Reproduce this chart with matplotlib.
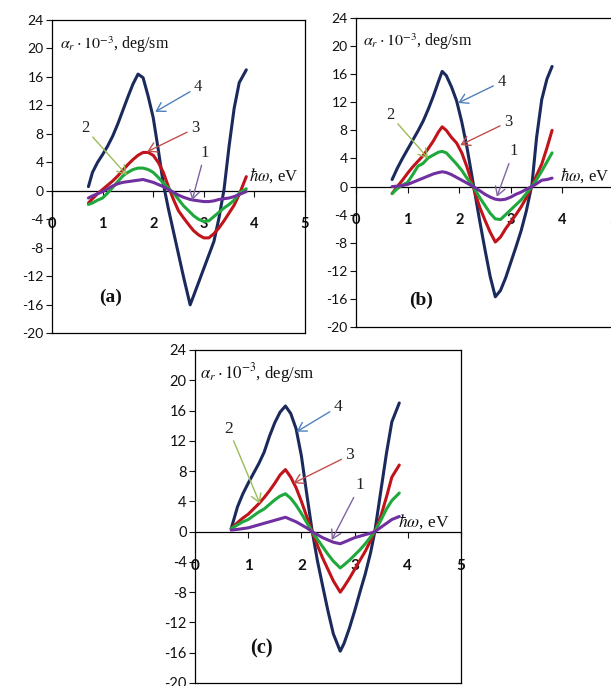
import matplotlib
matplotlib.use('Agg')
import matplotlib.pyplot as plt

plt.rcParams['mathtext.fontset'] = 'stix'
plt.rcParams['font.family'] = ['Lato', 'DejaVu Sans']
plt.rcParams['axes.unicode_minus'] = False

# photon energy (eV) and rotation angle (10^-3 deg/sm)
x_a = [0.72, 0.8, 0.9, 1.0, 1.1, 1.2, 1.3, 1.4, 1.5, 1.6, 1.7, 1.8, 1.9, 2.0, 2.1, 2.2,
       2.3, 2.4, 2.5, 2.6, 2.73, 2.8, 2.9, 3.0, 3.1, 3.2, 3.3, 3.4, 3.5, 3.6, 3.7, 3.84]
a_curve1 = [-1.0, -0.7, -0.4, -0.1, 0.3, 0.7, 1.0, 1.2, 1.3, 1.4, 1.5, 1.6, 1.4, 1.2, 0.9, 0.6,
            0.2, -0.2, -0.6, -0.9, -1.2, -1.3, -1.4, -1.5, -1.5, -1.4, -1.2, -1.1, -1.0, -0.8, -0.5, -0.1]
a_curve2 = [-1.9, -1.7, -1.3, -1.0, -0.3, 0.5, 1.3, 2.1, 2.6, 3.0, 3.2, 3.2, 3.0, 2.6, 1.9, 1.1,
            0.4, -0.3, -1.2, -2.1, -3.0, -3.5, -4.0, -4.3, -4.2, -3.6, -3.0, -2.4, -1.9, -1.3, -0.3, 0.3]
a_curve3 = [-1.7, -1.1, -0.4, 0.2, 0.8, 1.4, 2.1, 2.9, 3.7, 4.4, 5.0, 5.4, 5.4, 5.0, 4.0, 2.6,
            0.6, -1.2, -2.8, -3.8, -5.0, -5.6, -6.2, -6.6, -6.6, -6.0, -5.2, -4.2, -3.1, -2.0, -0.5, 2.0]
a_curve4 = [0.6, 2.6, 4.0, 5.1, 6.3, 7.7, 9.4, 11.3, 13.2, 15.0, 16.4, 15.9, 13.3, 10.3, 5.8, 1.0,
            -2.5, -5.7, -8.9, -12.1, -16.0, -14.7, -12.8, -10.9, -9.0, -7.1, -3.8, 0.2, 6.3, 11.6, 15.2, 17.0]

x_b = [0.7, 0.8, 0.9, 1.0, 1.1, 1.2, 1.3, 1.4, 1.5, 1.6, 1.67, 1.75, 1.85, 1.95, 2.05, 2.15,
       2.27, 2.4, 2.5, 2.6, 2.7, 2.8, 2.9, 3.0, 3.1, 3.2, 3.3, 3.41, 3.5, 3.6, 3.7, 3.8]
b_curve1 = [0.0, 0.05, 0.15, 0.3, 0.6, 0.9, 1.2, 1.5, 1.8, 2.0, 2.1, 2.0, 1.7, 1.3, 0.9, 0.5,
            0.0, -0.6, -1.1, -1.5, -1.8, -1.9, -1.8, -1.5, -1.1, -0.8, -0.4, 0.0, 0.4, 0.9, 1.0, 1.2]
b_curve2 = [-1.0, -0.3, 0.2, 0.6, 1.7, 2.9, 3.3, 4.1, 4.5, 4.9, 5.0, 4.8, 4.0, 3.2, 2.3, 1.2,
            0.0, -1.6, -2.7, -3.8, -4.6, -4.7, -4.0, -3.3, -2.6, -1.9, -1.0, 0.0, 1.0, 2.2, 3.5, 4.8]
b_curve3 = [-1.0, 0.0, 0.9, 1.9, 2.8, 3.6, 4.4, 5.4, 6.5, 7.8, 8.5, 8.0, 7.0, 6.2, 4.8, 2.8,
            0.0, -3.0, -4.8, -6.5, -7.9, -7.2, -6.0, -5.0, -4.0, -2.9, -1.6, 0.0, 1.6, 3.2, 5.5, 8.0]
b_curve4 = [1.0, 2.6, 4.0, 5.3, 6.6, 7.9, 9.3, 11.0, 12.9, 15.0, 16.4, 15.8, 14.2, 12.2, 9.2, 5.6,
            0.5, -5.0, -9.0, -12.8, -15.7, -14.8, -13.0, -10.8, -8.6, -6.3, -3.5, 0.3, 7.0, 12.4, 15.3, 17.1]

x_c = [0.68, 0.8, 0.9, 1.0, 1.1, 1.2, 1.3, 1.4, 1.5, 1.6, 1.7, 1.8, 1.9, 2.0, 2.1, 2.2,
       2.3, 2.4, 2.5, 2.6, 2.73, 2.8, 2.9, 3.0, 3.1, 3.2, 3.3, 3.38, 3.5, 3.6, 3.7, 3.84]
c_curve1 = [0.2, 0.3, 0.4, 0.5, 0.7, 0.9, 1.1, 1.3, 1.5, 1.7, 1.9, 1.6, 1.3, 0.9, 0.5, 0.0,
            -0.4, -0.8, -1.1, -1.4, -1.6, -1.4, -1.1, -0.8, -0.6, -0.4, -0.2, 0.0, 0.6, 1.1, 1.6, 2.0]
c_curve2 = [0.4, 0.9, 1.3, 1.6, 2.1, 2.6, 3.0, 3.6, 4.2, 4.7, 5.0, 4.4, 3.5, 2.4, 1.2, 0.0,
            -1.0, -2.0, -3.0, -3.9, -4.8, -4.4, -3.8, -3.1, -2.4, -1.6, -0.7, 0.0, 1.6, 3.0, 4.1, 5.1]
c_curve3 = [0.4, 1.2, 1.8, 2.3, 3.0, 3.7, 4.5, 5.4, 6.4, 7.5, 8.2, 7.2, 5.8, 4.0, 2.0, 0.0,
            -1.8, -3.5, -5.0, -6.5, -8.0, -7.3, -6.2, -5.0, -3.8, -2.6, -1.2, 0.0, 2.2, 4.6, 7.2, 8.8]
c_curve4 = [0.4, 3.3, 5.0, 6.4, 7.7, 9.0, 10.5, 12.6, 14.4, 15.8, 16.6, 15.6, 13.6, 10.0, 5.0, 0.2,
            -3.8, -7.2, -10.5, -13.5, -15.8, -14.8, -12.8, -10.5, -8.0, -5.6, -2.8, 0.0, 5.7, 10.4, 14.5, 17.0]

y_ticks = list(range(-20, 25, 4))
x_ticks = [0, 1, 2, 3, 4, 5]

line_colors = {1: '#7030a0', 2: '#1fa83c', 3: '#c0141a', 4: '#1b2a5c'}
arrow_colors = {1: '#8064a2', 2: '#9bbb59', 3: '#c0504d', 4: '#4f81bd'}


def draw_panel(ax, x, curves, letter, letter_pos, ylab_pos, hw_pos, arrows, k=1.0):
    # draw navy first so the small curves stay visible on top
    for n in (4, 3, 2, 1):
        ax.plot(x, curves[n], color=line_colors[n], lw=2.2, solid_capstyle='round',
                solid_joinstyle='round', zorder=3)
    ax.set_xlim(0, 5)
    ax.set_ylim(-20, 24)
    ax.set_yticks(y_ticks)
    ax.set_xticks([])
    ax.tick_params(axis='y', direction='out', length=4, width=0.8, pad=2,
                   labelsize=10 * k, colors='#111111')
    for s in ax.spines.values():
        s.set_linewidth(0.9)
        s.set_color('black')

    # x axis drawn through y = 0
    sec = ax.secondary_xaxis(20 / 44)
    sec.set_xticks(x_ticks, labels=[str(v) for v in x_ticks], fontweight='bold')
    sec.tick_params(direction='out', length=4, width=0.8, pad=15 * k,
                    labelsize=10.5 * k, colors='#111111')
    for s in sec.spines.values():
        s.set_linewidth(0.9)

    ax.text(ylab_pos[0], ylab_pos[1], r'$\alpha_r\cdot 10^{-3}$, deg/sm',
            transform=ax.transAxes, fontsize=11.5 * k, family='Liberation Serif',
            va='center', ha='left', color='#111111')
    ax.text(hw_pos[0], hw_pos[1], r'$\hbar\omega$, eV', fontsize=12 * k,
            family='Liberation Serif', va='baseline', ha='left', color='#111111')
    ax.text(letter_pos[0], letter_pos[1], '(' + letter + ')', transform=ax.transAxes,
            fontsize=14 * k, family='Liberation Serif', fontweight='bold',
            ha='center', va='center', color='#111111')

    for n, txt, head in arrows:
        ax.annotate(str(n), xy=head, xytext=txt, fontsize=12 * k,
                    family='Liberation Serif', ha='center', va='center',
                    color='#222222', zorder=4,
                    arrowprops=dict(arrowstyle='->,head_length=0.5,head_width=0.3',
                                    color=arrow_colors[n], lw=1.0,
                                    shrinkA=1, shrinkB=0, mutation_scale=12))


fig = plt.figure(figsize=(6.11, 6.86), dpi=100)
fig.patch.set_facecolor('white')

ax_a = fig.add_axes([52 / 611, 1 - 333.3 / 686, 253 / 611, 313.3 / 686])
ax_b = fig.add_axes([356 / 611, 1 - 327 / 686, 258 / 611, 309 / 686])
ax_c = fig.add_axes([195 / 611, 1 - 683 / 686, 266 / 611, 333 / 686])

draw_panel(ax_a, x_a, {1: a_curve1, 2: a_curve2, 3: a_curve3, 4: a_curve4}, 'a',
           (0.231, 0.116), (0.032, 0.92), (3.9, 1.4),
           [(4, (2.89, 14.6), (2.04, 11.1)),
            (3, (2.83, 8.8), (1.88, 5.5)),
            (2, (0.65, 8.8), (1.48, 2.2)),
            (1, (3.02, 5.3), (2.77, -1.3))])

draw_panel(ax_b, x_b, {1: b_curve1, 2: b_curve2, 3: b_curve3, 4: b_curve4}, 'b',
           (0.251, 0.087), (0.027, 0.923), (3.95, 0.9),
           [(4, (2.82, 14.9), (1.98, 11.9)),
            (3, (2.95, 9.2), (2.02, 5.9)),
            (2, (0.66, 10.2), (1.40, 4.0)),
            (1, (3.05, 5.0), (2.73, -1.45))])

draw_panel(ax_c, x_c, {1: c_curve1, 2: c_curve2, 3: c_curve3, 4: c_curve4}, 'c',
           (0.251, 0.104), (0.019, 0.931), (3.82, 0.6),
           [(4, (2.69, 16.5), (1.91, 13.2)),
            (3, (2.91, 10.1), (1.85, 6.4)),
            (2, (0.63, 13.6), (1.22, 3.7)),
            (1, (3.10, 6.1), (2.57, -1.1))], k=1.05)

fig.savefig('out.png', dpi=100, facecolor='white')
